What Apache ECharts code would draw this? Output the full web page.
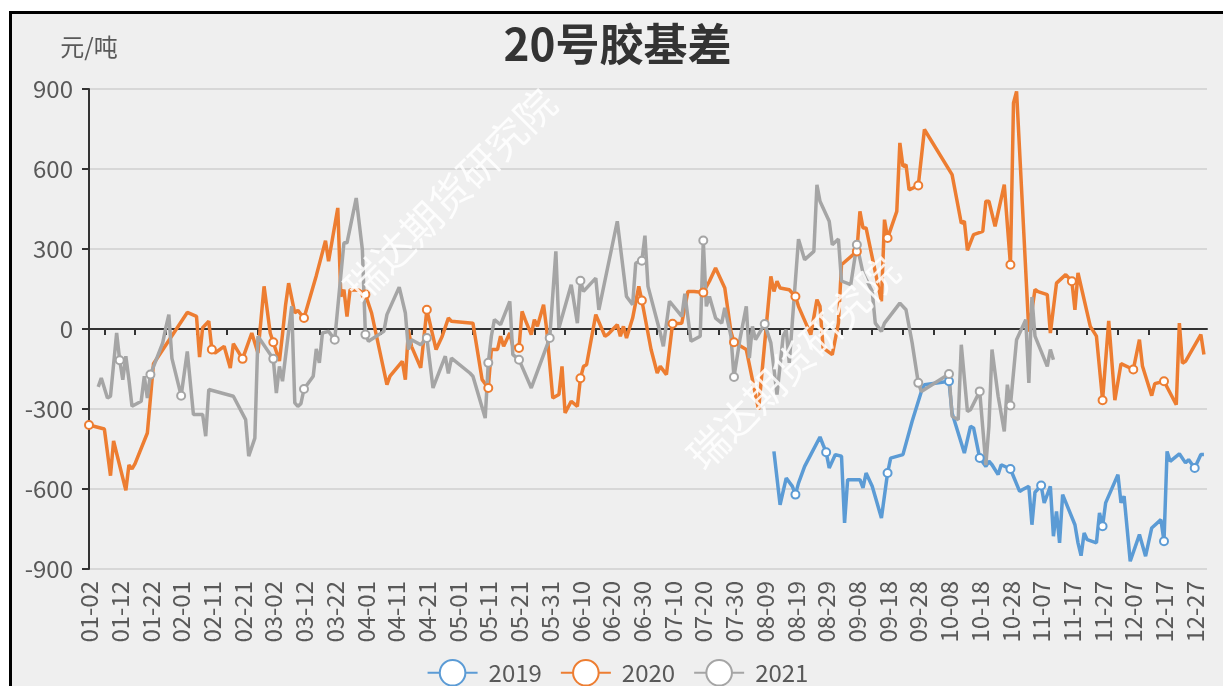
<!DOCTYPE html>
<html>
<head>
<meta charset="utf-8">
<title>20号胶基差</title>
<script src="https://cdn.jsdelivr.net/npm/echarts@6/dist/echarts.min.js"></script>
<style>
  html, body { margin: 0; padding: 0; background: #fff; overflow: hidden; }
  .frame { position: absolute; left: 9px; top: 11px; width: 1230px; height: 690px; border: 3px solid #000; background: #efefef; }
  #chart { position: absolute; left: 0; top: 0; width: 1211px; height: 672px; }
</style>
</head>
<body>
<div class="frame"><div id="chart"></div></div>
<script>
// categories: every calendar day from 01-02 to 12-31 (leap-year calendar)
const monthDays = [31, 29, 31, 30, 31, 30, 31, 31, 30, 31, 30, 31]
const categories = []
monthDays.forEach((n, m) => {
  for (let d = 1; d <= n; d++) {
    if (m === 0 && d === 1) continue
    categories.push(String(m + 1).padStart(2, '0') + '-' + String(d).padStart(2, '0'))
  }
})

const legendNames = ['2019', '2020', '2021']
const yMin = -900
const yMax = 900
const yStep = 300

// 2019 basis, 元/吨
const basis2019 = [
  ['08-12', -459], ['08-14', -659], ['08-16', -559], ['08-18', -590], ['08-19', -621],
  ['08-20', -578], ['08-22', -515], ['08-24', -471], ['08-27', -405], ['08-28', -434],
  ['08-29', -462], ['08-30', -521], ['09-01', -471], ['09-03', -477], ['09-04', -727],
  ['09-05', -565], ['09-09', -565], ['09-10', -596], ['09-11', -540], ['09-13', -590],
  ['09-16', -709], ['09-18', -540], ['09-19', -484], ['09-23', -471], ['09-26', -346],
  ['09-29', -234], ['09-30', -209], ['10-08', -196], ['10-09', -315], ['10-11', -390],
  ['10-13', -465], ['10-15', -365], ['10-16', -371], ['10-18', -484], ['10-20', -515],
  ['10-21', -496], ['10-22', -509], ['10-24', -546], ['10-25', -509], ['10-28', -525],
  ['10-31', -609], ['11-01', -602], ['11-03', -590], ['11-04', -734], ['11-05', -612],
  ['11-07', -587], ['11-08', -652], ['11-10', -590], ['11-11', -777], ['11-12', -684],
  ['11-13', -802], ['11-14', -621], ['11-18', -734], ['11-19', -802], ['11-20', -850],
  ['11-21', -765], ['11-22', -790], ['11-25', -802], ['11-26', -690], ['11-27', -740],
  ['11-28', -652], ['12-02', -546], ['12-03', -652], ['12-04', -627], ['12-06', -871],
  ['12-09', -771], ['12-11', -852], ['12-13', -746], ['12-16', -715], ['12-17', -796],
  ['12-18', -459], ['12-19', -496], ['12-22', -468], ['12-24', -502], ['12-25', -490],
  ['12-27', -521], ['12-29', -471], ['12-30', -471]
]

// 2020 basis
const basis2020 = [
  ['01-02', -360], ['01-07', -375], ['01-09', -550], ['01-10', -420], ['01-14', -605],
  ['01-15', -510], ['01-16', -525], ['01-17', -505], ['01-21', -390], ['01-23', -130],
  ['02-03', 62], ['02-06', 47], ['02-07', -105], ['02-08', 5], ['02-10', 29],
  ['02-11', -77], ['02-12', -90], ['02-15', -65], ['02-17', -146], ['02-18', -55],
  ['02-21', -112], ['02-24', -15], ['02-26', -90], ['02-28', 160], ['03-01', -15],
  ['03-02', -50], ['03-04', -120], ['03-05', -20], ['03-06', 90], ['03-07', 172],
  ['03-09', 60], ['03-10', 70], ['03-12', 41], ['03-16', 200], ['03-19', 331],
  ['03-20', 254], ['03-23', 454], ['03-24', 122], ['03-25', 147], ['03-26', 47],
  ['03-27', 147], ['03-30', 145], ['04-01', 129], ['04-03', 60], ['04-08', -209],
  ['04-09', -177], ['04-13', -121], ['04-14', -190], ['04-15', -3], ['04-16', -65],
  ['04-19', -146], ['04-21', 72], ['04-24', -77], ['04-26', -27], ['04-28', 41],
  ['04-29', 29], ['05-06', 22], ['05-09', -190], ['05-11', -221], ['05-12', -77],
  ['05-14', -77], ['05-15', -27], ['05-16', -65], ['05-18', -15], ['05-19', -65],
  ['05-21', -71], ['05-22', 66], ['05-23', 35], ['05-25', -21], ['05-26', 35],
  ['05-27', 10], ['05-29', 91], ['05-30', 0], ['06-01', -259], ['06-03', -246],
  ['06-04', -140], ['06-05', -315], ['06-07', -271], ['06-09', -290], ['06-10', -185],
  ['06-11', -140], ['06-12', -134], ['06-15', 54], ['06-18', -27], ['06-19', -20],
  ['06-22', 16], ['06-23', -27], ['06-24', 10], ['06-25', -34], ['06-27', 41],
  ['06-29', 160], ['06-30', 107], ['07-03', -77], ['07-05', -165], ['07-06', -140],
  ['07-08', -171], ['07-10', 20], ['07-13', 22], ['07-15', 141], ['07-17', 141],
  ['07-20', 137], ['07-22', 179], ['07-24', 229], ['07-27', 154], ['07-29', -9],
  ['07-30', -50], ['08-03', -77], ['08-07', -302], ['08-11', 197], ['08-12', 141],
  ['08-13', 179], ['08-14', 154], ['08-17', 147], ['08-19', 122], ['08-20', 85],
  ['08-24', -21], ['08-26', 110], ['08-27', 85], ['08-28', -71], ['08-31', -96],
  ['09-02', 22], ['09-03', 241], ['09-08', 291], ['09-09', 441], ['09-10', 379],
  ['09-11', 379], ['09-16', 104], ['09-17', 410], ['09-18', 341], ['09-21', 441],
  ['09-22', 698], ['09-23', 610], ['09-24', 616], ['09-25', 522], ['09-28', 538],
  ['09-30', 748], ['10-09', 579], ['10-12', 397], ['10-13', 404], ['10-14', 295],
  ['10-16', 354], ['10-19', 366], ['10-20', 479], ['10-21', 479], ['10-23', 385],
  ['10-26', 541], ['10-28', 241], ['10-29', 848], ['10-30', 891], ['11-03', -10],
  ['11-05', 148], ['11-06', 140], ['11-09', 129], ['11-10', -15], ['11-12', 172],
  ['11-15', 204], ['11-17', 179], ['11-18', 72], ['11-19', 210], ['11-23', 10],
  ['11-25', -27], ['11-27', -267], ['11-29', 30], ['12-01', -267], ['12-03', -130],
  ['12-07', -152], ['12-09', -40], ['12-10', -140], ['12-13', -250], ['12-14', -205],
  ['12-17', -196], ['12-21', -284], ['12-22', 22], ['12-23', -128], ['12-24', -121],
  ['12-29', -21], ['12-30', -96]
]

// 2021 basis
const basis2021 = [
  ['01-05', -217], ['01-06', -184], ['01-08', -259], ['01-09', -252], ['01-11', -15],
  ['01-12', -117], ['01-13', -190], ['01-14', -102], ['01-15', -190], ['01-16', -290],
  ['01-19', -271], ['01-20', -177], ['01-21', -259], ['01-22', -171], ['01-26', -52],
  ['01-27', 4], ['01-28', 54], ['01-29', -110], ['02-01', -250], ['02-03', -84],
  ['02-05', -321], ['02-08', -321], ['02-09', -402], ['02-10', -227], ['02-18', -252],
  ['02-22', -340], ['02-23', -477], ['02-25', -409], ['02-26', -27], ['03-02', -112],
  ['03-03', -240], ['03-04', -140], ['03-05', -196], ['03-08', 85], ['03-09', -277],
  ['03-10', -290], ['03-11', -280], ['03-12', -225], ['03-15', -177], ['03-16', -75],
  ['03-17', -127], ['03-18', -15], ['03-20', -9], ['03-22', -40], ['03-25', 323],
  ['03-26', 323], ['03-29', 491], ['03-31', 298], ['04-01', -21], ['04-02', -46],
  ['04-07', -9], ['04-08', 54], ['04-12', 157], ['04-14', 60], ['04-15', -77],
  ['04-16', -40], ['04-19', -59], ['04-21', -34], ['04-23', -221], ['04-27', -102],
  ['04-28', -167], ['04-29', -109], ['05-05', -165], ['05-06', -177], ['05-10', -334],
  ['05-11', -127], ['05-12', -27], ['05-13', 35], ['05-15', 16], ['05-18', 104],
  ['05-19', -96], ['05-21', -115], ['05-25', -221], ['05-26', -190], ['05-31', -34],
  ['06-02', 291], ['06-03', 4], ['06-07', 166], ['06-09', 22], ['06-10', 181],
  ['06-11', 141], ['06-15', 191], ['06-16', 72], ['06-22', 404], ['06-25', 122],
  ['06-27', 91], ['06-28', 247], ['06-30', 256], ['07-01', 350], ['07-02', 160],
  ['07-06', -15], ['07-07', -65], ['07-09', 104], ['07-13', 47], ['07-14', 132],
  ['07-16', -46], ['07-19', -27], ['07-20', 332], ['07-21', 85], ['07-22', 122],
  ['07-24', 41], ['07-26', 22], ['07-27', 79], ['07-29', -27], ['07-30', -180],
  ['08-01', -34], ['08-03', 85], ['08-04', -109], ['08-05', 10], ['08-06', -40],
  ['08-09', 19], ['08-11', -52], ['08-13', -246], ['08-15', -27], ['08-16', -3],
  ['08-17', -127], ['08-20', 337], ['08-22', 260], ['08-25', 291], ['08-26', 541],
  ['08-27', 479], ['08-30', 404], ['08-31', 316], ['09-02', 337], ['09-03', 180],
  ['09-06', 166], ['09-08', 316], ['09-10', 210], ['09-13', 141], ['09-14', 22],
  ['09-16', -9], ['09-17', 22], ['09-22', 97], ['09-24', 72], ['09-26', -52],
  ['09-28', -202], ['09-29', -234], ['10-08', -169], ['10-09', -327], ['10-11', -340],
  ['10-12', -59], ['10-14', -309], ['10-15', -303], ['10-18', -234], ['10-20', -510],
  ['10-21', -365], ['10-22', -77], ['10-24', -252], ['10-26', -384], ['10-27', -209],
  ['10-28', -287], ['10-30', -40], ['11-02', 35], ['11-03', -202], ['11-04', 120],
  ['11-05', -27], ['11-09', -140], ['11-10', -77], ['11-11', -115]
]

const FONT = '"Noto Sans CJK SC", "Microsoft YaHei", sans-serif'
const textGray = '#595959'
const axisDark = '#333333'
const watermark = '瑞达期货研究院'

function lineSeries(name, color, data) {
  return {
    name: name,
    type: 'line',
    data: data,
    symbol: 'emptyCircle',
    symbolSize: 8,
    showSymbol: true,
    showAllSymbol: 'auto',
    lineStyle: { color: color, width: 3.5 },
    itemStyle: { color: color, borderWidth: 1.5 },
    emphasis: { disabled: true }
  }
}

const chart = echarts.init(document.getElementById('chart'))

chart.setOption({
  animation: false,
  backgroundColor: 'transparent',
  textStyle: { fontFamily: FONT },
  title: {
    text: '20号胶基差',
    left: 'center',
    top: 3,
    textStyle: { fontSize: 44, fontWeight: 'bold', color: axisDark, fontFamily: FONT }
  },
  legend: {
    data: legendNames,
    left: 'center',
    top: 640,
    itemWidth: 50,
    itemHeight: 32,
    itemGap: 18,
    textStyle: { fontSize: 24, color: textGray, fontFamily: FONT, padding: [0, 0, 0, 6] }
  },
  grid: { left: 77, right: 16, top: 75, bottom: 117, containLabel: false, outerBoundsMode: 'none' },
  xAxis: [
    {
      type: 'category',
      data: categories,
      boundaryGap: false,
      position: 'bottom',
      axisLine: { show: false, onZero: false },
      axisTick: { show: false },
      axisLabel: { interval: 9, rotate: 90, fontSize: 24, color: textGray, margin: 12, fontFamily: FONT },
      splitLine: { show: false }
    },
    {
      type: 'category',
      data: categories,
      boundaryGap: false,
      position: 'top',
      axisLine: { show: true, onZero: true, lineStyle: { color: axisDark, width: 2 } },
      axisTick: {
        show: true,
        inside: true,
        length: 6,
        interval: (i) => i % 10 === 5,
        lineStyle: { color: axisDark, width: 2 }
      },
      axisLabel: { show: false },
      splitLine: { show: false }
    }
  ],
  yAxis: {
    type: 'value',
    min: yMin,
    max: yMax,
    interval: yStep,
    name: '元/吨',
    nameLocation: 'end',
    nameGap: 30,
    nameTextStyle: { fontSize: 24, color: textGray, align: 'center', fontFamily: FONT },
    axisLine: { show: true, lineStyle: { color: axisDark, width: 2 } },
    axisTick: { show: true, length: 7, lineStyle: { color: axisDark, width: 2 } },
    axisLabel: { fontSize: 24, color: textGray, margin: 16, fontFamily: FONT },
    splitLine: { show: true, lineStyle: { color: '#cfcfcf', width: 1.5 } }
  },
  series: [
    lineSeries(legendNames[0], '#5b9bd5', basis2019),
    lineSeries(legendNames[1], '#ed7d31', basis2020),
    lineSeries(legendNames[2], '#a5a5a5', basis2021)
  ],
  graphic: [
    {
      type: 'text', x: 438, y: 181, rotation: Math.PI / 4, z: 100, silent: true,
      style: { text: watermark, font: '40px "Noto Sans CJK SC"', fill: 'rgba(255,255,255,0.85)', align: 'center', verticalAlign: 'middle' }
    },
    {
      type: 'text', x: 781, y: 349, rotation: Math.PI / 4, z: 100, silent: true,
      style: { text: watermark, font: '40px "Noto Sans CJK SC"', fill: 'rgba(255,255,255,0.85)', align: 'center', verticalAlign: 'middle' }
    }
  ]
})
</script>
</body>
</html>
